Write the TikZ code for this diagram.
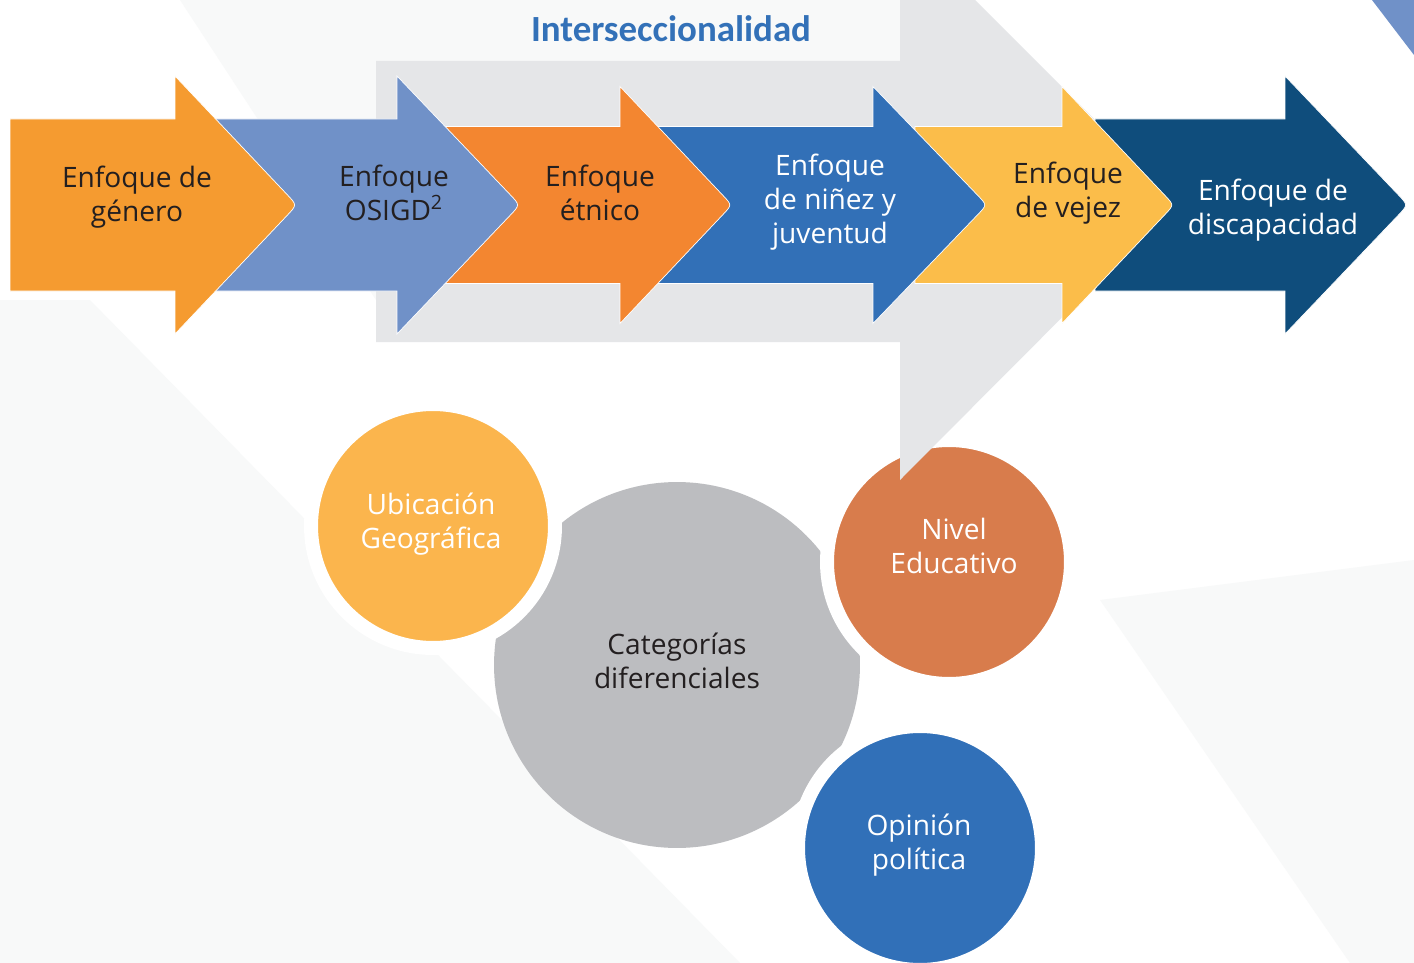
\documentclass[tikz,border=0pt]{standalone}
\usepackage{fontspec}
\setmainfont{Open Sans}
\newfontfamily\titlefont{Carlito}
\usetikzlibrary{calc}

\begin{document}
\begin{tikzpicture}[x=0.02cm, y=-0.02cm,
    lbl/.style={align=center, inner sep=0pt, font=\fontsize{16}{19.4}\selectfont},
    darktxt/.style={lbl, text=textdark},
    lighttxt/.style={lbl, text=white},
    catcircle/.style={circle, draw=white, line width=0.28cm, minimum size=4.88cm}]
    % Define colors
    \definecolor{generocolor}{RGB}{245,155,48}
    \definecolor{osigdcolor}{RGB}{112,145,200}
    \definecolor{etnicocolor}{RGB}{243,134,48}
    \definecolor{ninezcolor}{RGB}{50,112,183}
    \definecolor{vejezcolor}{RGB}{251,189,74}
    \definecolor{discapcolor}{RGB}{15,77,124}
    \definecolor{intercolor}{RGB}{229,230,232}
    \definecolor{catcolor}{RGB}{188,189,192}
    \definecolor{ubiccolor}{RGB}{251,181,77}
    \definecolor{nivelcolor}{RGB}{216,124,76}
    \definecolor{opinioncolor}{RGB}{49,112,184}
    \definecolor{titlecolor}{RGB}{51,113,184}
    \definecolor{textdark}{RGB}{35,31,32}
    \definecolor{bandcolor}{RGB}{248,249,249}

    % Define dimensions
    \def\midline{205}

    % Canvas
    \useasboundingbox (0,0) rectangle (1414,963);
    \clip (0,0) rectangle (1414,963);
    \fill[white] (0,0) rectangle (1414,963);

    % Faint background bands
    \fill[bandcolor] (180,0) -- (900,0) -- (900,61) -- (376,61) -- (376,300) -- cycle;
    \fill[bandcolor] (0,300) -- (90,300) -- (740,963) -- (0,963) -- cycle;
    \fill[bandcolor] (1100,600) -- (1414,560) -- (1414,963) -- (1350,963) -- cycle;
    \fill[osigdcolor] (1372,0) -- (1414,0) -- (1414,55) -- cycle;

    % Differential categories
    \node[circle, fill=catcolor, minimum size=7.32cm] (cat) at (677,665) {};
    \node[catcircle, fill=ubiccolor] (ubic) at (433,526) {};
    \node[catcircle, fill=nivelcolor] (nivel) at (949,562) {};
    \node[catcircle, fill=opinioncolor] (opinion) at (920,848) {};

    \node[darktxt] (cat-t) at (677,661) {Categorías\\diferenciales};
    \node[lighttxt] (ubic-t) at (431,524) {Ubicación\\Geográfica};
    \node[lighttxt] (nivel-t) at (954,546) {Nivel\\Educativo};
    \node[lighttxt] (opinion-t) at (919,845) {Opinión\\política};

    % Intersectionality arrow (behind)
    \fill[intercolor] (376,61) -- (900,61) -- (900,-75) -- (1177,202)
        -- (900,480) -- (900,342) -- (376,342) -- cycle;
    \node[font=\titlefont\bfseries\fontsize{21}{24}\selectfont, text=titlecolor,
        inner sep=0pt] (inter) at (671,29) {Interseccionalidad};

    % Approach arrows, last one first
    \foreach \xs/\xh/\xt/\bh/\hh/\col in {
        1095/1285/1408/86/129/discapcolor,
        915/1062/1174/78.5/118.5/vejezcolor,
        655/873/987/78.5/118.5/ninezcolor,
        445/620/732/78.5/118.5/etnicocolor,
        215/397/520/86/129/osigdcolor,
        10/175/297/86/129/generocolor} {
        \filldraw[fill=\col, draw=white, line width=0.4pt]
            (\xs,\midline-\bh) -- (\xh,\midline-\bh) -- (\xh,\midline-\hh)
            -- ($(\xt,\midline)!0.08!(\xh,\midline-\hh)$)
            .. controls (\xt,\midline) .. ($(\xt,\midline)!0.08!(\xh,\midline+\hh)$)
            -- (\xh,\midline+\hh) -- (\xh,\midline+\bh) -- (\xs,\midline+\bh) -- cycle;
    }

    % Arrow labels
    \node[darktxt] (genero) at (137,197) {Enfoque de\\género};
    \node[darktxt] (osigd) at (394,193) {Enfoque\\OSIGD\textsuperscript{2}};
    \node[darktxt] (etnico) at (600,193) {Enfoque\\étnico};
    \node[lighttxt] (ninez) at (830,202) {Enfoque\\de niñez y\\juventud};
    \node[darktxt] (vejez) at (1068,193) {Enfoque\\de vejez};
    \node[lighttxt] (discap) at (1273,210) {Enfoque de\\discapacidad};

\end{tikzpicture}
\end{document}
